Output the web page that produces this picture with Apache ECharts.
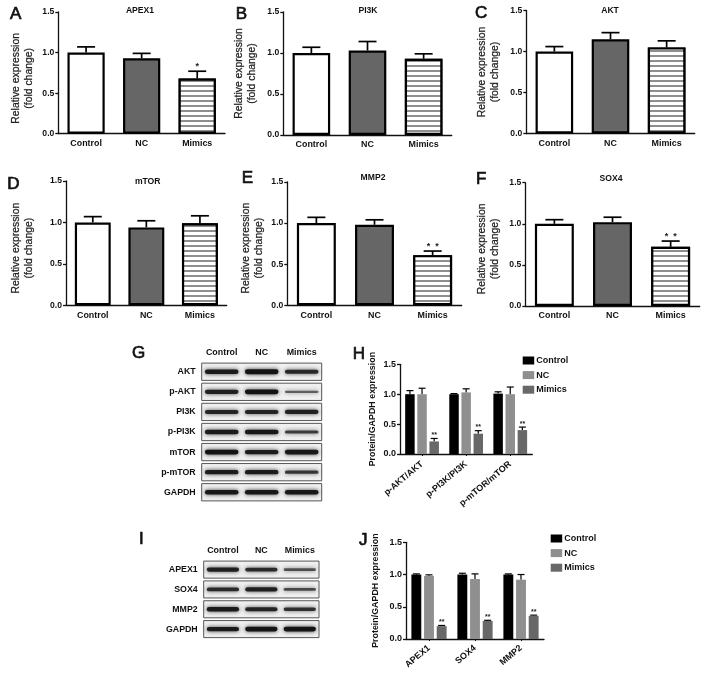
<!DOCTYPE html>
<html>
<head>
<meta charset="utf-8">
<style>html,body{margin:0;padding:0;background:#fff}#c{width:708px;height:675px;filter:blur(0.3px)}</style>
<script src="https://cdn.jsdelivr.net/npm/echarts@6/dist/echarts.min.js"></script>
</head>
<body>
<div id="c"></div>
<script>
// ---- data ----
const categories = ['Control', 'NC', 'Mimics'];
const tickFixed = v => v.toFixed(1);

const apex1Means = [1.0, 0.93, 0.68], apex1Tops = [1.07, 0.99, 0.77], apex1Sig = ['', '', '*'];
const pi3kMeans = [1.0, 1.03, 0.93], pi3kTops = [1.07, 1.14, 0.99], pi3kSig = ['', '', ''];
const aktMeans = [1.0, 1.15, 1.05], aktTops = [1.06, 1.23, 1.13], aktSig = ['', '', ''];
const mtorMeans = [1.0, 0.94, 0.99], mtorTops = [1.07, 1.02, 1.08], mtorSig = ['', '', ''];
const mmp2Means = [1.0, 0.98, 0.61], mmp2Tops = [1.07, 1.04, 0.66], mmp2Sig = ['', '', '*  *'];
const sox4Means = [1.0, 1.02, 0.72], sox4Tops = [1.05, 1.08, 0.79], sox4Sig = ['', '', '*  *'];

const hCategories = ['p-AKT/AKT', 'p-PI3K/PI3K', 'p-mTOR/mTOR'];
const hControl = [1.0, 1.0, 1.01], hControlTop = [1.06, 1.01, 1.04];
const hNC = [1.0, 1.03, 1.0], hNCTop = [1.10, 1.09, 1.12];
const hMimics = [0.21, 0.34, 0.40], hMimicsTop = [0.26, 0.39, 0.45];

const jCategories = ['APEX1', 'SOX4', 'MMP2'];
const jControl = [1.0, 1.0, 1.0], jControlTop = [1.01, 1.02, 1.01];
const jNC = [0.98, 0.93, 0.92], jNCTop = [0.995, 1.01, 1.0];
const jMimics = [0.20, 0.28, 0.36], jMimicsTop = [0.21, 0.29, 0.37];

const gRows = ['AKT', 'p-AKT', 'PI3K', 'p-PI3K', 'mTOR', 'p-mTOR', 'GAPDH'];
const gBands = [[.85, .95, .72], [.8, .95, .3], [.75, .75, .8], [.85, .9, .55], [.95, .85, .9], [.85, .85, .6], [.9, .9, .9]];
const iRows = ['APEX1', 'SOX4', 'MMP2', 'GAPDH'];
const iBands = [[.8, .7, .4], [.7, .8, .45], [.85, .75, .65], [.85, .95, .95]];

// ---- layout & styling ----
const FONT = '"Liberation Sans", Arial, sans-serif';
const barPanels = [
  {t:'APEX1', m:apex1Means, e:apex1Tops, s:apex1Sig, x0:58.3, x1:225, y0:12, y1:133.7, name:22, shift:11, tx:140, ty:11.5},
  {t:'PI3K',  m:pi3kMeans,  e:pi3kTops,  s:pi3kSig,  x0:283.3, x1:451.7, y0:12, y1:135, name:245, shift:0, tx:368, ty:11.5},
  {t:'AKT',   m:aktMeans,   e:aktTops,   s:aktSig,   x0:526.3, x1:694.7, y0:10.5, y1:133.5, name:488, shift:0, tx:610, ty:11.5},
  {t:'mTOR',  m:mtorMeans,  e:mtorTops,  s:mtorSig,  x0:66, x1:226.7, y0:181, y1:305.3, name:22, shift:10, tx:147.7, ty:181.7},
  {t:'MMP2',  m:mmp2Means,  e:mmp2Tops,  s:mmp2Sig,  x0:287.3, x1:461.7, y0:182, y1:305.3, name:252, shift:9, tx:373, ty:177.7},
  {t:'SOX4',  m:sox4Means,  e:sox4Tops,  s:sox4Sig,  x0:525.3, x1:699.7, y0:182.7, y1:306, name:488.3, shift:9, tx:611, ty:179.3}
];
const letters = [['A',10,14],['B',235.7,14],['C',475,13.3],['D',7.3,184.3],['E',241.7,178.3],['F',476,179.3],['G',132,353],['H',352.7,354],['I',139,539],['J',359,540]];
const barStyles = [
  {color:'#fff', borderColor:'#000', borderWidth:2.2},
  {color:'#666', borderColor:'#000', borderWidth:2.2},
  {color:'#fff', borderColor:'#000', borderWidth:2.2,
   decal:{symbol:'rect', symbolSize:1, color:'#8f8f8f', backgroundColor:'#fff', dashArrayX:[1,0], dashArrayY:[1.6,2.4], rotation:0}}
];
const groupColors = {Control:'#000', NC:'#8f8f8f', Mimics:'#686868'};

const grids = [], xAxes = [], yAxes = [], series = [], titles = [];
function addGrid(x0, x1, y0, y1){
  grids.push({left:x0, top:y0, width:x1-x0, height:y1-y0, containLabel:false});
  return grids.length - 1;
}
function valueAxis(idx, extra){
  return Object.assign({type:'value', gridIndex:idx, min:0, max:1.5, interval:0.5, splitLine:{show:false},
    axisLine:{show:true, lineStyle:{color:'#111', width:1.3}},
    axisTick:{show:true, length:3, lineStyle:{color:'#111', width:1.3}},
    axisLabel:{margin:4, color:'#111', fontFamily:FONT, fontWeight:'bold', fontSize:8.6, formatter:tickFixed}}, extra);
}
function errRender(capPx, lineW, lane, frac, starSize, starGap){
  return function(params, api){
    const i = api.value(0), m = api.value(1), top = api.value(2);
    const band = api.size([1,0])[0];
    const c0 = api.coord([i, m]), c1 = api.coord([i, top]);
    const x = c0[0] + lane * frac * band;
    const kids = [
      {type:'line', shape:{x1:x, y1:c0[1], x2:x, y2:c1[1]}, style:{stroke:'#000', lineWidth:lineW}},
      {type:'line', shape:{x1:x-capPx/2, y1:c1[1], x2:x+capPx/2, y2:c1[1]}, style:{stroke:'#000', lineWidth:lineW}}
    ];
    const sig = api.value(3);
    if (sig) kids.push({type:'text', style:{text:sig, x:x, y:c1[1]-starGap, align:'center', verticalAlign:'middle',
      fontFamily:FONT, fontWeight:'bold', fontSize:starSize, fill:'#222'}});
    return {type:'group', children:kids};
  };
}
function errData(m, e, s){ return m.map((v,i)=>[i, v, e[i], s ? s[i] : '']); }

barPanels.forEach(p=>{
  const g = addGrid(p.x0, p.x1, p.y0, p.y1);
  xAxes.push({type:'category', gridIndex:g, data:categories,
    axisLine:{lineStyle:{color:'#111', width:1.3}}, axisTick:{show:false},
    axisLabel:{margin:5.5, color:'#111', fontFamily:FONT, fontWeight:'bold', fontSize:8.9, interval:0}});
  yAxes.push(valueAxis(g, {name:'Relative expression\n(fold change)', nameLocation:'middle', nameRotate:90,
    nameGap:p.x0-p.name-13,
    nameTextStyle:{fontFamily:FONT, fontSize:10.4, lineHeight:12.5, color:'#222', textBorderColor:'#222', textBorderWidth:0.25, padding:[0,p.shift,0,0]}}));
  series.push({type:'custom', xAxisIndex:g, yAxisIndex:g, z:1, silent:true,
    renderItem:errRender(18, 1.7, 0, 0, 9, 5), encode:{x:0, y:2}, data:errData(p.m, p.e, p.s)});
  series.push({type:'bar', xAxisIndex:g, yAxisIndex:g, z:3, barWidth:'67%',
    data:p.m.map((v,i)=>({value:v, itemStyle:barStyles[i]}))});
  titles.push({text:p.t, left:p.tx, top:p.ty-5, textAlign:'center', padding:0,
    textStyle:{fontFamily:FONT, fontWeight:'bold', fontSize:8.6, color:'#111'}});
});

function groupedPanel(x0, x1, y0, y1, cats, sets, nameLeft, labelMargin){
  const g = addGrid(x0, x1, y0, y1);
  xAxes.push({type:'category', gridIndex:g, data:cats,
    axisLine:{lineStyle:{color:'#111', width:1.3}},
    axisTick:{show:true, alignWithLabel:true, length:2, lineStyle:{color:'#111', width:1}},
    axisLabel:{margin:labelMargin, rotate:40, color:'#111', fontFamily:FONT, fontWeight:'bold', fontSize:9, interval:0}});
  yAxes.push(valueAxis(g, {name:'Protein/GAPDH expression', nameLocation:'middle', nameRotate:90, nameGap:x0-nameLeft-5,
    axisLabel:{margin:4, color:'#111', fontFamily:FONT, fontWeight:'bold', fontSize:9, formatter:tickFixed},
    nameTextStyle:{fontFamily:FONT, fontWeight:'bold', fontSize:8.9, color:'#111'}}));
  sets.forEach((s,k)=>{
    series.push({type:'custom', xAxisIndex:g, yAxisIndex:g, z:1, silent:true,
      renderItem:errRender(7, 1.2, k-1, 0.275, 7, 3.5), encode:{x:0, y:2},
      data:errData(s.m, s.e, k===2 ? s.m.map(()=>'**') : null)});
    series.push({type:'bar', name:s.name, xAxisIndex:g, yAxisIndex:g, z:3, barWidth:'21.5%', barGap:'28%',
      itemStyle:{color:groupColors[s.name]}, data:s.m});
  });
}
groupedPanel(400, 532.3, 364.3, 454, hCategories, [
  {name:'Control', m:hControl, e:hControlTop}, {name:'NC', m:hNC, e:hNCTop}, {name:'Mimics', m:hMimics, e:hMimicsTop}], 372, 9);
groupedPanel(406, 544, 542.3, 639, jCategories, [
  {name:'Control', m:jControl, e:jControlTop}, {name:'NC', m:jNC, e:jNCTop}, {name:'Mimics', m:jMimics, e:jMimicsTop}], 375, 8);

function blotPanel(x0, x1, y0, y1, rows, bands){
  const g = addGrid(x0, x1, y0, y1);
  const hidden = {show:false};
  xAxes.push({type:'category', gridIndex:g, position:'top', data:categories, axisLine:hidden, axisTick:hidden,
    axisLabel:{margin:5, color:'#111', fontFamily:FONT, fontWeight:'bold', fontSize:8.9, interval:0}});
  yAxes.push({type:'category', gridIndex:g, inverse:true, data:rows, axisLine:hidden, axisTick:hidden,
    axisLabel:{margin:6, color:'#111', fontFamily:FONT, fontWeight:'bold', fontSize:8.8, interval:0}});
  series.push({type:'custom', xAxisIndex:g, yAxisIndex:g, z:1, silent:true, clip:false,
    renderItem:(params, api)=>{
      const c = api.coord([1, api.value(0)]), h = api.size([0,1])[1];
      const r = params.coordSys;
      return {type:'rect', shape:{x:r.x, y:c[1]-h*0.43, width:r.width, height:h*0.86},
        style:{fill:'#f0f0f0', stroke:'#444', lineWidth:0.9}};
    }, data:rows.map((_,i)=>[i])});
  const cells = [];
  bands.forEach((row,r)=>row.forEach((v,l)=>cells.push([l, r, v])));
  series.push({type:'custom', xAxisIndex:g, yAxisIndex:g, z:2, silent:true,
    renderItem:(params, api)=>{
      const c = api.coord([api.value(0), api.value(1)]);
      const bw = api.size([1,0])[0]*0.84, v = api.value(2), bh = 1 + 4*v;
      return {type:'rect', shape:{x:c[0]-bw/2, y:c[1]-bh/2, width:bw, height:bh, r:bh/2},
        style:{fill:'#111', opacity:0.4+0.6*v, shadowBlur:4, shadowColor:'rgba(0,0,0,0.8)'}};
    }, data:cells});
}
blotPanel(201.7, 321.7, 361.7, 502.3, gRows, gBands);
blotPanel(203.7, 319, 559.7, 639, iRows, iBands);

letters.forEach(l=>titles.push({text:l[0], left:l[1], top:l[2]-8.5, padding:0,
  textStyle:{fontFamily:FONT, fontWeight:'normal', fontSize:17, color:'#111', textBorderColor:'#111', textBorderWidth:0.7}}));

const legendText = {fontFamily:FONT, fontWeight:'bold', fontSize:9, color:'#111', padding:[0,0,0,-3]};
const legends = [[522.7, 356],[550.7, 534]].map(p=>({left:p[0], top:p[1], orient:'vertical', itemWidth:11.5, itemHeight:8, itemGap:5.6,
  selectedMode:false, padding:0, icon:'rect', data:['Control','NC','Mimics'], textStyle:legendText}));

const chart = echarts.init(document.getElementById('c'), null, {renderer:'canvas'});
chart.setOption({animation:false, backgroundColor:'#fff', title:titles, legend:legends,
  tooltip:{show:false}, grid:grids, xAxis:xAxes, yAxis:yAxes, series:series});
</script>
</body>
</html>
